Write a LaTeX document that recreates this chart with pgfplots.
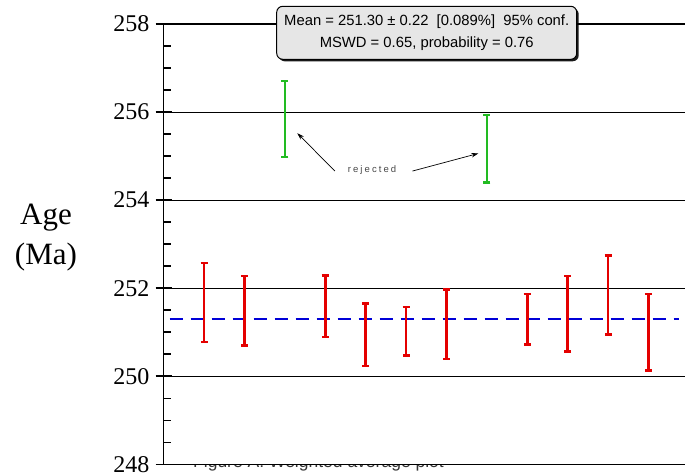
\documentclass[border=0pt]{standalone}
\usepackage{fontspec}
\setmainfont{Liberation Serif}
\newfontfamily\sansf{Liberation Sans}
\usepackage{pgfplots}
\pgfplotsset{compat=1.18}
\usetikzlibrary{arrows.meta,shadows}
\definecolor{barred}{RGB}{228,0,0}
\definecolor{bargreen}{RGB}{34,187,34}
\definecolor{meanblue}{RGB}{0,0,215}
\definecolor{boxgray}{RGB}{230,230,230}
\definecolor{txtgray}{RGB}{70,70,70}
\begin{document}
\begin{tikzpicture}
\begin{scope}
\clip (0,0) rectangle (685bp,9.5bp);
\node[anchor=base west, inner sep=0pt, font=\sansf\fontsize{17.5bp}{20bp}\selectfont, text=black!80] at (193bp,6.3bp) {Figure A: Weighted average plot};
\end{scope}
\begin{axis}[
  at={(163.6bp,9.7bp)}, anchor=south west,
  x=40.4bp, y=44.03bp,
  xmin=0, xmax=13, ymin=248, ymax=258,
  clip=false,
  hide x axis,
  axis y line*=left,
  axis line style={black, line width=1.5bp},
  ytick={248,250,...,258},
  minor y tick num=3,
  tick align=center,
  major tick length=16bp, minor tick length=7.5bp,
  tick style={black, line width=1.5bp},
  minor tick style={xshift=3.75bp},
  ymajorgrids,
  major grid style={black, line width=1.1bp},
  /pgf/number format/assume math mode=true,
  yticklabel style={font=\fontsize{24bp}{26bp}\selectfont, inner sep=0pt, anchor=east, xshift=-6bp},
  ylabel={Age\\(Ma)},
  ylabel style={rotate=-90, align=center, font=\fontsize{31bp}{40bp}\selectfont, at={(axis description cs:-0.224,0.514)}, anchor=center},
]
\addplot[meanblue, line width=2.2bp, dash pattern=on 13bp off 8bp] coordinates {(0.15,251.3) (12.75,251.3)};
\addplot[draw=none, no markers, error bars/.cd, y dir=both, y explicit,
  error bar style={barred, line width=2.6bp},
  error mark options={rotate=90, barred, line width=2.2bp, mark size=3.5bp}]
  coordinates {
  (1,251.68) +- (0,0.90)
  (2,251.485) +- (0,0.785)
  (4,251.59) +- (0,0.70)
  (5,250.94) +- (0,0.71)
  (6,251.025) +- (0,0.555)
  (7,251.18) +- (0,0.79)
  (9,251.29) +- (0,0.57)
  (10,251.42) +- (0,0.86)
  (11,251.845) +- (0,0.895)
  (12,251.00) +- (0,0.87)
  };
\addplot[draw=none, no markers, error bars/.cd, y dir=both, y explicit,
  error bar style={bargreen, line width=2.6bp},
  error mark options={rotate=90, bargreen, line width=2.2bp, mark size=3.5bp}]
  coordinates {
  (3,255.84) +- (0,0.86)
  (8,255.17) +- (0,0.77)
  };
\draw[-{Stealth[length=7bp,width=4.5bp]}, line width=0.7bp] (axis cs:4.24,254.66) -- (axis cs:3.31,255.52);
\draw[-{Stealth[length=7bp,width=4.5bp]}, line width=0.7bp] (axis cs:6.16,254.66) -- (axis cs:7.79,255.06);
\node[font=\sansf\fontsize{9.5bp}{10bp}\selectfont\addfontfeature{LetterSpace=22}, text=txtgray] at (axis cs:5.16,254.69) {rejected};
\node[draw=black, line width=1bp, rounded corners=6bp, fill=boxgray,
  drop shadow={shadow xshift=2bp, shadow yshift=-2bp, fill=black, opacity=0.9},
  minimum width=300bp, minimum height=53bp, align=center,
  font=\sansf\fontsize{14.8bp}{21.6bp}\selectfont, inner sep=0pt]
  at (axis cs:6.513,257.80) {Mean = 251.30 ± 0.22\ \ [0.089\%]\ \ 95\% conf.\\MSWD = 0.65, probability = 0.76};
\end{axis}
\pgfresetboundingbox
\useasboundingbox (0,0) rectangle (685bp,474bp);
\end{tikzpicture}
\end{document}
